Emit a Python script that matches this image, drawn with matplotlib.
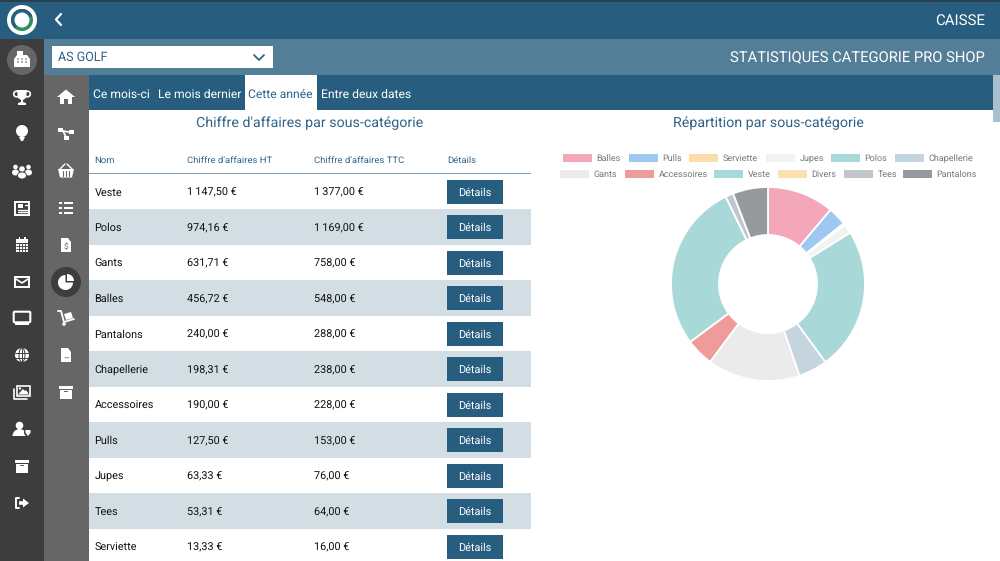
import matplotlib
matplotlib.use("Agg")
import matplotlib.pyplot as plt
from matplotlib.patches import Rectangle, Circle, Ellipse, Polygon, Wedge, FancyBboxPatch

plt.rcParams['font.family'] = ['Roboto', 'DejaVu Sans']
plt.rcParams['text.hinting'] = 'no_hinting'

# table
names = ["Veste", "Polos", "Gants", "Balles", "Pantalons", "Chapellerie",
         "Accessoires", "Pulls", "Jupes", "Tees", "Serviette"]
ca_ht = ["1\u202f147,50 €", "974,16 €", "631,71 €", "456,72 €", "240,00 €", "198,31 €",
         "190,00 €", "127,50 €", "63,33 €", "53,31 €", "13,33 €"]
ca_ttc = ["1\u202f377,00 €", "1\u202f169,00 €", "758,00 €", "548,00 €", "288,00 €", "238,00 €",
          "228,00 €", "153,00 €", "76,00 €", "64,00 €", "16,00 €"]
columns = ["Nom", "Chiffre d'affaires HT", "Chiffre d'affaires TTC", "Détails"]

# donut, same order as the legend
pie_labels = ["Balles", "Pulls", "Serviette", "Jupes", "Polos", "Chapellerie",
              "Gants", "Accessoires", "Veste", "Divers", "Tees", "Pantalons"]
pie_values = [548, 153, 16, 76, 1169, 238, 758, 228, 1377, 0, 64, 288]
pie_colors = ["#f4a7b9", "#9ec8f0", "#fbdcaa", "#f1f3f3", "#a8d9d8", "#c5d5df",
              "#ebebeb", "#ef9b99", "#a8d9d8", "#fde0b0", "#c0c7cc", "#96999e"]

tabs = ["Ce mois-ci", "Le mois dernier", "Cette année", "Entre deux dates"]

BLUE = "#275d7e"
TITLE = "#2f6488"
BAND = "#d3dde4"
DARK = "#3d3d3d"
GREY = "#666666"

fig = plt.figure(figsize=(10, 5.61), dpi=100)
ax = fig.add_axes([0, 0, 1, 1])
ax.set_xlim(0, 1000)
ax.set_ylim(561, 0)
ax.axis("off")


def rect(x0, y0, x1, y1, color, **kw):
    ax.add_patch(Rectangle((x0, y0), x1 - x0, y1 - y0, fc=color, ec="none", **kw))


def circ(x, y, r, color="white", z=3):
    ax.add_patch(Circle((x, y), r, fc=color, ec="none", zorder=z))


def poly(pts, color="white", z=3):
    ax.add_patch(Polygon(pts, closed=True, fc=color, ec="none", zorder=z))


def line(xs, ys, color="white", lw=1.5, z=3):
    ax.plot(xs, ys, color=color, lw=lw, zorder=z, solid_capstyle="round")


# backgrounds
rect(0, 0, 1000, 39, BLUE)
rect(0, 0, 1000, 1.5, "#2a3f4d")
rect(44, 39, 1000, 75, "#537e97")
rect(0, 39, 44, 561, DARK)
rect(44, 75, 88.7, 561, GREY)
rect(88.7, 75, 1000, 110, BLUE)
rect(245, 75, 317, 111, "white")
rect(993, 75, 1000, 122, "#a9bfcc")

# logo
circ(22, 20, 15, "white")
circ(22, 20, 11, "#2f8f5b", 4)
ax.add_patch(Wedge((22, 20), 11, 130, 340, fc=BLUE, ec="none", zorder=5))
circ(22, 20, 7.5, "white", 6)
line([61, 56, 61], [14, 19.5, 25], lw=1.6)

# header texts
ax.text(985, 24.5, "CAISSE", color="white", fontsize=10.8, ha="right", va="baseline")
ax.text(985, 62, "STATISTIQUES CATEGORIE PRO SHOP", color="white", fontsize=10.6, ha="right", va="baseline")
rect(52, 46, 273, 68, "white")
ax.text(58, 61, "AS GOLF", color=TITLE, fontsize=9, va="baseline")
line([254, 259, 264], [55, 60, 55], color=TITLE, lw=1.3)

for x, t in zip([93, 158, 248, 321], tabs):
    ax.text(x, 97.5, t, color=TITLE if t == "Cette année" else "white", fontsize=8.75, va="baseline")

# table
ax.text(310, 127, "Chiffre d'affaires par sous-catégorie", color=TITLE, fontsize=10.3, ha="center", va="baseline")
ax.text(768, 127, "Répartition par sous-catégorie", color=TITLE, fontsize=10.3, ha="center", va="baseline")
col_x = [94.5, 187, 314, 447]
for x, c in zip(col_x, columns):
    ax.text(x, 163, c, color=TITLE, fontsize=6.8, va="baseline")
rect(89, 172.5, 531, 173.5, "#7fa0b5")
for i in range(len(names)):
    y = 191.5 + 35.5 * i
    if i % 2:
        rect(88.7, y - 17.7, 531, min(y + 17.7, 561), BAND)
    ax.text(col_x[0], y + 4, names[i], color="#111111", fontsize=7.8, va="baseline")
    ax.text(col_x[1], y + 4, ca_ht[i], color="#111111", fontsize=7.8, va="baseline")
    ax.text(col_x[2], y + 4, ca_ttc[i], color="#111111", fontsize=7.8, va="baseline")
    rect(447, y - 12, 503, y + 12, BLUE)
    ax.text(475, y + 4, "Détails", color="white", fontsize=7.8, ha="center", va="baseline")

# legend, chart.js style rows
swatch_x = [563, 629, 689, 766, 831, 895, 560, 625, 714, 778, 844, 903]
for i, lab in enumerate(pie_labels):
    y = 158 if i < 6 else 174
    ax.add_patch(Rectangle((swatch_x[i], y - 4), 28.5, 8, fc=pie_colors[i], ec="none"))
    ax.text(swatch_x[i] + 33.5, y + 3, lab, color="#777777", fontsize=6.5, va="baseline")

# donut
pie_ax = fig.add_axes([0.668, 1 - 384 / 561, 0.2, 200 / 561])
pie_ax.pie(pie_values, colors=pie_colors, startangle=90, counterclock=False, radius=1,
           wedgeprops=dict(width=0.495, edgecolor="white", linewidth=1.3))
pie_ax.set_xlim(-100 / 97, 100 / 97)
pie_ax.set_ylim(-100 / 97, 100 / 97)


# sidebar icons, centred on x,y
def ic_register(x, y):
    poly([(x - 8, y + 7), (x + 8, y + 7), (x + 8, y - 1), (x + 5, y - 5), (x - 5, y - 5), (x - 8, y - 1)])
    rect(x - 5, y - 9, x + 1, y - 5, "white", zorder=3)
    for dx in (-4, 0, 4):
        circ(x + dx, y - 1, 0.8, "#666666", 4)
        circ(x + dx, y + 2, 0.8, "#666666", 4)


def ic_trophy(x, y):
    poly([(x - 5, y - 7), (x + 5, y - 7), (x + 4, y + 1), (x + 1, y + 3), (x + 1, y + 5), (x + 4, y + 6),
          (x + 4, y + 8), (x - 4, y + 8), (x - 4, y + 6), (x - 1, y + 5), (x - 1, y + 3), (x - 4, y + 1)])
    ax.add_patch(Circle((x - 5.5, y - 3), 2.8, fc="none", ec="white", lw=1.2, zorder=3))
    ax.add_patch(Circle((x + 5.5, y - 3), 2.8, fc="none", ec="white", lw=1.2, zorder=3))


def ic_ball(x, y):
    circ(x, y - 2, 6)
    poly([(x - 3, y + 4), (x + 3, y + 4), (x + 1, y + 8), (x - 1, y + 8)])


def ic_people(x, y):
    for dx, r in ((-6.5, 2.3), (6.5, 2.3), (0, 2.8)):
        circ(x + dx, y - 4 + (2 if dx == 0 else 0), r)
    for dx, w in ((-6.5, 7), (6.5, 7)):
        ax.add_patch(Ellipse((x + dx, y + 1.5), w, 6, fc="white", ec="none", zorder=3))
    ax.add_patch(Ellipse((x, y + 4.5), 9, 7, fc="white", ec=DARK, lw=0.6, zorder=4))


def ic_news(x, y):
    ax.add_patch(Rectangle((x - 7, y - 6.5), 14, 13, fc="none", ec="white", lw=1.4, zorder=3))
    rect(x - 4, y - 4, x + 1, y, "white", zorder=3)
    line([x - 4, x + 4.5], [y + 2, y + 2], lw=1)
    line([x - 4, x + 4.5], [y + 4, y + 4], lw=1)
    line([x + 3, x + 4.5], [y - 3, y - 3], lw=1)


def ic_calendar(x, y):
    rect(x - 6, y - 6, x + 6, y + 7, "white", zorder=3)
    rect(x - 3.5, y - 8, x - 2, y - 5, "white", zorder=3)
    rect(x + 2, y - 8, x + 3.5, y - 5, "white", zorder=3)
    line([x - 6, x + 6], [y - 2, y - 2], color=DARK, lw=0.7, z=4)
    for k in (-3, 0, 3):
        line([x + k, x + k], [y - 2, y + 7], color=DARK, lw=0.6, z=4)
    for k in (1, 4):
        line([x - 6, x + 6], [y + k, y + k], color=DARK, lw=0.6, z=4)


def ic_mail(x, y):
    ax.add_patch(Rectangle((x - 7, y - 5), 14, 10, fc="none", ec="white", lw=1.4, zorder=3))
    line([x - 6, x, x + 6], [y - 3, y + 1, y - 3], lw=1.2)


def ic_monitor(x, y):
    ax.add_patch(FancyBboxPatch((x - 8, y - 6), 16, 10, boxstyle="round,pad=0.3,rounding_size=1",
                                fc="none", ec="white", lw=1.5, zorder=3))
    rect(x - 7, y + 5, x + 7, y + 6.5, "white", zorder=3)


def ic_globe(x, y):
    circ(x, y, 7)
    ax.add_patch(Ellipse((x, y), 6, 14, fc="none", ec=DARK, lw=0.7, zorder=4))
    line([x - 7, x + 7], [y - 2.5, y - 2.5], color=DARK, lw=0.7, z=4)
    line([x - 7, x + 7], [y + 2.5, y + 2.5], color=DARK, lw=0.7, z=4)
    line([x, x], [y - 7, y + 7], color=DARK, lw=0.7, z=4)


def ic_images(x, y):
    ax.add_patch(Rectangle((x - 5, y - 6.5), 13, 10, fc="none", ec="white", lw=1.2, zorder=3))
    line([x - 8, x - 8, x + 5], [y - 3, y + 6.5, y + 6.5], lw=1.2)
    poly([(x - 4, y + 2.5), (x + 1, y - 3), (x + 3, y - 1), (x + 4, y - 2), (x + 7, y + 2.5)])
    circ(x - 2, y - 3.5, 1.2)


def ic_user(x, y):
    circ(x - 2.5, y - 3.5, 3.8)
    ax.add_patch(Wedge((x - 2.5, y + 7), 7, 180, 360, fc="white", ec="none", zorder=3))
    circ(x + 6, y + 3.5, 4, DARK, 4)
    poly([(x + 3.5, y + 1), (x + 8.5, y + 1), (x + 8.5, y + 4), (x + 6, y + 7), (x + 3.5, y + 4)], "white", 5)


def ic_archive(x, y):
    rect(x - 7, y - 6.5, x + 7, y - 3.5, "white", zorder=3)
    rect(x - 6, y - 2.5, x + 6, y + 6.5, "white", zorder=3)
    rect(x - 2, y - 1, x + 2, y, GREY, zorder=4)


def ic_logout(x, y):
    line([x - 3, x - 6, x - 6, x - 3], [y - 5, y - 5, y + 5, y + 5], lw=1.4)
    poly([(x - 3, y - 1.8), (x + 1, y - 1.8), (x + 1, y - 4.5), (x + 7, y), (x + 1, y + 4.5), (x + 1, y + 1.8), (x - 3, y + 1.8)])


def ic_home(x, y):
    poly([(x, y - 7.5), (x + 9, y), (x + 6, y), (x + 6, y + 7), (x + 2, y + 7), (x + 2, y + 2),
          (x - 2, y + 2), (x - 2, y + 7), (x - 6, y + 7), (x - 6, y), (x - 9, y)])


def ic_nodes(x, y):
    rect(x - 8, y - 6, x - 3, y - 2, "white", zorder=3)
    rect(x + 3, y - 4, x + 8, y, "white", zorder=3)
    rect(x - 2, y + 2, x + 3, y + 6, "white", zorder=3)
    line([x - 3, x + 3], [y - 3, y - 2], lw=1.2)
    line([x - 3, x], [y - 3, y + 3], lw=1.2)


def ic_basket(x, y):
    poly([(x - 8, y - 2), (x + 8, y - 2), (x + 6, y + 6.5), (x - 6, y + 6.5)])
    line([x - 6, x - 1], [y - 2, y - 7], lw=1)
    line([x + 6, x + 1], [y - 2, y - 7], lw=1)
    for dx in (-3, 0, 3):
        line([x + dx, x + dx], [y, y + 5], color=GREY, lw=0.8, z=4)


def ic_list(x, y):
    for dy in (-5, 0, 5):
        rect(x - 7, y + dy - 1.3, x - 4.5, y + dy + 1.3, "white", zorder=3)
        rect(x - 2.5, y + dy - 1.2, x + 7, y + dy + 1.2, "white", zorder=3)


def ic_file(x, y, glyph=None):
    poly([(x - 5, y - 7), (x + 2, y - 7), (x + 5, y - 3), (x + 5, y + 7), (x - 5, y + 7)])
    if glyph:
        ax.text(x, y + 2, glyph, color=GREY, fontsize=6, ha="center", va="center", zorder=4)


def ic_pie(x, y):
    circ(x, y, 15, DARK, 2)
    ax.add_patch(Wedge((x - 0.5, y + 0.5), 7.5, 0, 270, fc="white", ec="none", zorder=3))
    ax.add_patch(Wedge((x + 1, y - 1), 7, 270, 360, fc="white", ec="none", zorder=3))


def ic_cart(x, y):
    line([x - 8, x - 5, x - 2, x + 8], [y - 7, y - 7, y + 4, y + 1], lw=1.3)
    poly([(x - 2, y - 4), (x + 5, y - 6), (x + 7, y), (x, y + 2)])
    circ(x - 2, y + 6, 1.8)


circ(22, 60, 15, GREY, 2)
ic_register(22, 60)
ic_trophy(22, 97)
ic_ball(22, 133)
ic_people(22, 171)
ic_news(22, 208)
ic_calendar(22, 245)
ic_mail(22, 282)
ic_monitor(22, 318)
ic_globe(22, 355)
ic_images(22, 392)
ic_user(22, 429)
ic_archive(22, 466)
ic_logout(22, 503)

ic_home(66, 97)
ic_nodes(66, 134)
ic_basket(66, 171)
ic_list(66, 208)
ic_file(66, 245, "$")
ic_pie(66, 282)
ic_cart(66, 318)
ic_file(66, 355, "~")
ic_archive(66, 392)

fig.savefig("out.png", dpi=100)
